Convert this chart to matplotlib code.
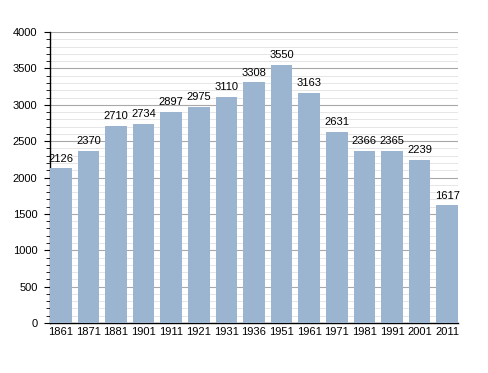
import matplotlib
matplotlib.use("Agg")
import matplotlib.pyplot as plt
import numpy as np

annees = ["1861", "1871", "1881", "1901", "1911", "1921", "1931", "1936",
          "1951", "1961", "1971", "1981", "1991", "2001", "2011"]
population = [2126, 2370, 2710, 2734, 2897, 2975, 3110, 3308,
              3550, 3163, 2631, 2366, 2365, 2239, 1617]

plt.rcParams["font.family"] = ["Liberation Sans", "DejaVu Sans"]

fig = plt.figure(figsize=(4.88, 3.73), dpi=100)
ax = fig.add_axes([0.1025, 0.134, 0.836, 0.78])

x = np.arange(len(annees))
barres = ax.bar(x, population, width=0.78, color="#9bb4cf", zorder=3)

# valeur au-dessus de chaque barre
for rect, val in zip(barres, population):
    ax.annotate(str(val),
                xy=(rect.get_x() + rect.get_width() / 2, rect.get_height()),
                xytext=(0, 3.5), textcoords="offset points",
                ha="center", va="bottom", fontsize=8, zorder=4)

ax.set_xlim(-0.39, len(annees) - 0.61)
ax.set_ylim(0, 4000)
ax.set_xticks(x)
ax.set_xticklabels(annees, fontsize=8)
ax.set_yticks(np.arange(0, 4001, 500))
ax.set_yticks(np.arange(0, 4001, 100), minor=True)
ax.tick_params(axis="y", labelsize=8, length=4, width=0.8, pad=5)
ax.tick_params(axis="y", which="minor", length=3, width=0.6)
ax.tick_params(axis="x", length=0, pad=3)

ax.grid(True, axis="y", which="major", color="#a8a8a8", linewidth=0.8, zorder=0)
ax.grid(True, axis="y", which="minor", color="#e2e2e2", linewidth=0.6, zorder=0)

ax.spines["top"].set_visible(False)
ax.spines["right"].set_visible(False)
ax.spines["left"].set_linewidth(1)
ax.spines["bottom"].set_linewidth(1)

plt.savefig("out.png", dpi=100)
plt.close()
